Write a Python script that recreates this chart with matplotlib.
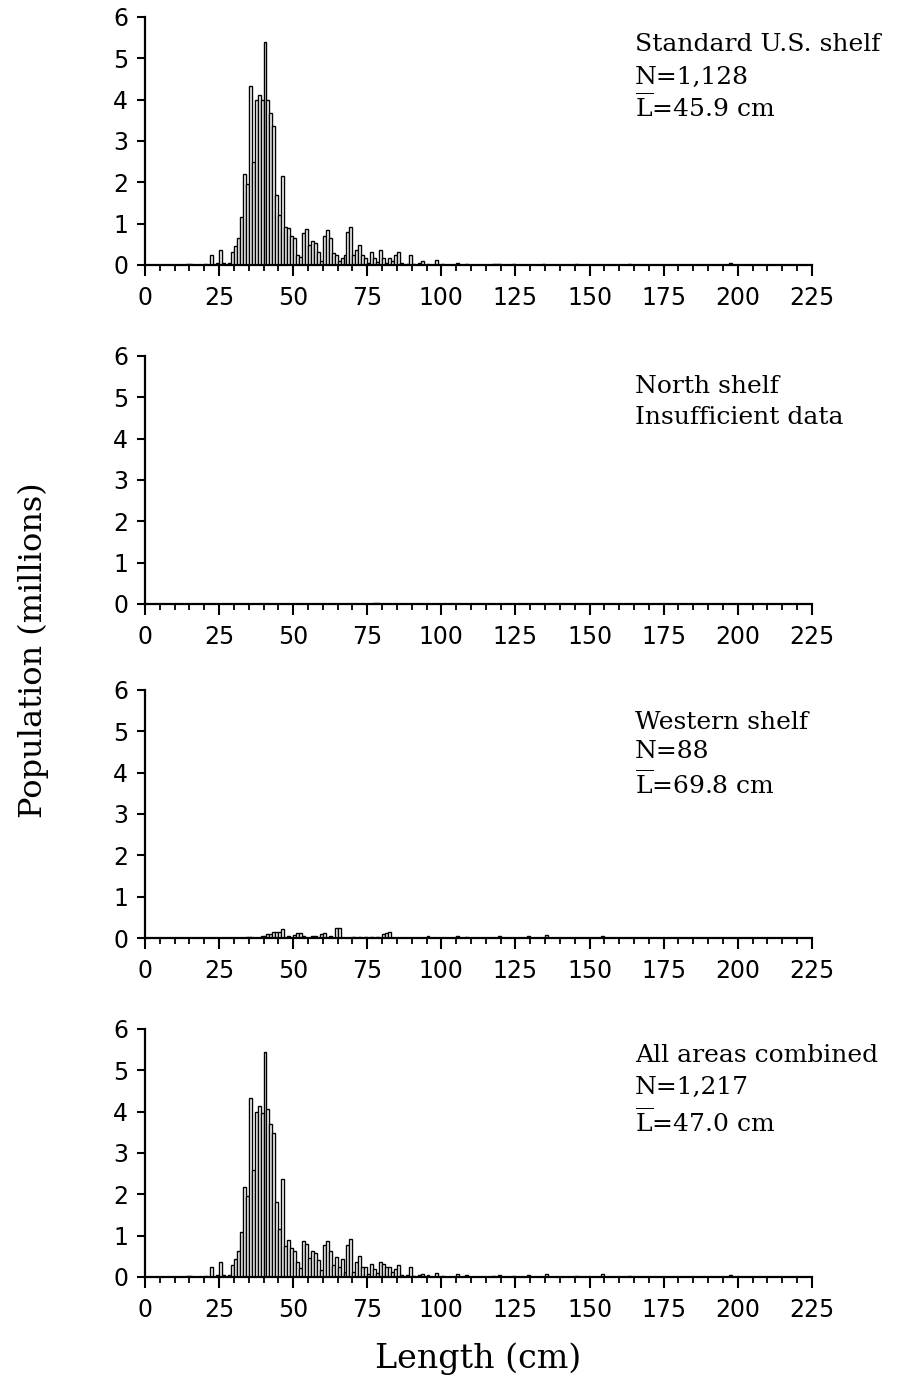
import numpy as np
import matplotlib.pyplot as plt

# Length-frequency panels, population in millions per 1-cm length class

std_len = [14, 15, 20, 22, 24, 25, 26, 28, 29, 30, 31, 32, 33, 34, 35, 36, 37, 38, 39, 40,
           41, 42, 43, 44, 45, 46, 47, 48, 49, 50, 51, 52, 53, 54, 55, 56, 57, 58, 59, 60,
           61, 62, 63, 64, 65, 66, 67, 68, 69, 70, 71, 72, 73, 74, 75, 76, 77, 78, 79, 80,
           81, 82, 83, 84, 85, 86, 88, 89, 90, 92, 93, 95, 98, 100, 105, 108, 117, 118, 119,
           124, 134, 145, 163, 197]
std_pop = [0.02, 0.02, 0.02, 0.24, 0.05, 0.36, 0.05, 0.05, 0.32, 0.45, 0.65, 1.15, 2.2, 1.95, 4.33, 2.5, 4.0, 4.1, 4.0, 5.4,
           4.0, 3.68, 3.36, 1.7, 1.2, 2.15, 0.93, 0.9, 0.69, 0.65, 0.25, 0.2, 0.77, 0.87, 0.49, 0.58, 0.53, 0.32, 0.1, 0.69,
           0.85, 0.65, 0.28, 0.24, 0.1, 0.16, 0.24, 0.81, 0.93, 0.24, 0.36, 0.49, 0.24, 0.16, 0.05, 0.32, 0.16, 0.08, 0.36, 0.16,
           0.05, 0.16, 0.1, 0.24, 0.32, 0.05, 0.03, 0.24, 0.02, 0.05, 0.1, 0.03, 0.12, 0.02, 0.05, 0.03, 0.03, 0.03, 0.03,
           0.03, 0.03, 0.02, 0.02, 0.05]

north_len = [77, 78]
north_pop = [0.03, 0.03]

west_len = [34, 35, 39, 40, 41, 42, 43, 44, 45, 46, 48, 50, 51, 52, 53, 56, 57, 59, 60, 62,
            64, 65, 70, 72, 74, 76, 78, 80, 81, 82, 95, 105, 108, 119, 129, 135, 154]
west_pop = [0.02, 0.02, 0.05, 0.06, 0.1, 0.1, 0.14, 0.14, 0.14, 0.22, 0.06, 0.08, 0.12, 0.12, 0.05, 0.06, 0.06, 0.1, 0.12, 0.04,
            0.23, 0.23, 0.02, 0.02, 0.02, 0.02, 0.02, 0.1, 0.12, 0.14, 0.04, 0.06, 0.02, 0.05, 0.04, 0.07, 0.06]

all_len = [14, 15, 20, 22, 24, 25, 26, 28, 29, 30, 31, 32, 33, 34, 35, 36, 37, 38, 39, 40,
           41, 42, 43, 44, 45, 46, 47, 48, 49, 50, 51, 52, 53, 54, 55, 56, 57, 58, 59, 60,
           61, 62, 63, 64, 65, 66, 67, 68, 69, 70, 71, 72, 73, 74, 75, 76, 77, 78, 79, 80,
           81, 82, 83, 84, 85, 86, 88, 89, 90, 92, 93, 95, 98, 100, 105, 108, 117, 119,
           124, 129, 135, 145, 154, 163, 197]
all_pop = [0.02, 0.02, 0.02, 0.23, 0.05, 0.36, 0.05, 0.05, 0.3, 0.43, 0.62, 1.1, 2.17, 1.97, 4.32, 2.58, 4.0, 4.13, 3.97, 5.44,
           4.07, 3.7, 3.48, 1.82, 1.15, 2.36, 0.74, 0.9, 0.7, 0.62, 0.37, 0.21, 0.87, 0.8, 0.45, 0.62, 0.57, 0.41, 0.17, 0.78,
           0.86, 0.62, 0.3, 0.48, 0.25, 0.43, 0.13, 0.78, 0.92, 0.13, 0.37, 0.5, 0.23, 0.23, 0.08, 0.31, 0.2, 0.1, 0.36, 0.32,
           0.23, 0.23, 0.12, 0.19, 0.3, 0.05, 0.05, 0.23, 0.03, 0.05, 0.07, 0.04, 0.09, 0.02, 0.07, 0.04, 0.03, 0.05,
           0.03, 0.04, 0.08, 0.02, 0.07, 0.02, 0.05]

labels = [
    ["Standard U.S. shelf", "N=1,128", r"$\overline{\mathrm{L}}$=45.9 cm"],
    ["North shelf", "Insufficient data"],
    ["Western shelf", "N=88", r"$\overline{\mathrm{L}}$=69.8 cm"],
    ["All areas combined", "N=1,217", r"$\overline{\mathrm{L}}$=47.0 cm"],
]
label_y = [[0.887, 0.758, 0.637], [0.875, 0.753], [0.87, 0.75, 0.62], [0.894, 0.765, 0.625]]

panels = [(std_len, std_pop), (north_len, north_pop), (west_len, west_pop), (all_len, all_pop)]
bottoms = [0.8077, 0.5617, 0.3193, 0.0733]

plt.rcParams['mathtext.fontset'] = 'dejavuserif'

fig = plt.figure(figsize=(9.06, 13.78), dpi=100)

for i, (lens, pops) in enumerate(panels):
    ax = fig.add_axes([0.160, bottoms[i], 0.736, 0.18])
    ax.bar(lens, pops, width=1.0, align='edge', color='white', edgecolor='black', linewidth=1.0)
    ax.set_xlim(0, 225)
    ax.set_ylim(0, 6)
    ax.spines['top'].set_visible(False)
    ax.spines['right'].set_visible(False)
    ax.spines['left'].set_linewidth(1.6)
    ax.spines['bottom'].set_linewidth(1.6)
    ax.set_xticks(range(0, 226, 25))
    ax.set_xticks(range(0, 226, 5), minor=True)
    ax.set_yticks(range(0, 7))
    ax.tick_params(axis='x', which='major', length=8, width=1.5, pad=7, labelsize=17)
    ax.tick_params(axis='x', which='minor', length=4, width=1.3)
    ax.tick_params(axis='y', which='major', length=6, width=1.5, pad=6, labelsize=17)
    for lab, yy in zip(labels[i], label_y[i]):
        ax.text(0.735, yy, lab, transform=ax.transAxes, family='DejaVu Serif',
                fontsize=18, va='center', ha='left', clip_on=False)

fig.text(0.037, 0.528, "Population (millions)", rotation=90, family='DejaVu Serif',
         fontsize=23, ha='center', va='center')
fig.text(0.528, 0.014, "Length (cm)", family='DejaVu Serif', fontsize=24,
         ha='center', va='center')

fig.savefig("out.png", dpi=100)
